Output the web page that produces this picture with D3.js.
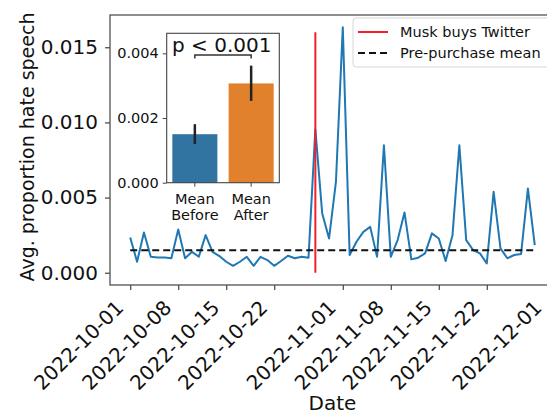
<!DOCTYPE html>
<html>
<head>
<meta charset="utf-8">
<script src="https://cdn.jsdelivr.net/npm/d3@7"></script>
<style>
  body { margin: 0; background: #fff; }
  text { font-family: "DejaVu Sans", sans-serif; fill: #111; }
</style>
</head>
<body>
<div id="chart-area"></div>
<script>
const startDate = "2022-10-01";
// daily averages, 2022-10-01 .. 2022-11-29
const hateSpeech = [
  0.00235, 0.00073, 0.00268, 0.00106, 0.00102, 0.00102, 0.00096, 0.00288, 0.00096, 0.00139,
  0.00106, 0.00250, 0.00139, 0.00111, 0.00073, 0.00046, 0.00073, 0.00106, 0.00046, 0.00106,
  0.00084, 0.00046, 0.00078, 0.00113, 0.00096, 0.00106, 0.00100, 0.00954, 0.00394, 0.00228,
  0.00604, 0.01633, 0.00118, 0.00206, 0.00272, 0.00305, 0.00106, 0.00848, 0.00106, 0.00217,
  0.00401, 0.00089, 0.00100, 0.00129, 0.00262, 0.00228, 0.00078, 0.00250, 0.00848, 0.00217,
  0.00151, 0.00129, 0.00062, 0.00538, 0.00162, 0.00096, 0.00118, 0.00124, 0.00560, 0.00184
];
const purchaseDate = "2022-10-28";
const purchaseTop = 0.016;
const preMean = 0.0015;
const xTicks = ["2022-10-01", "2022-10-08", "2022-10-15", "2022-10-22", "2022-11-01",
                "2022-11-08", "2022-11-15", "2022-11-22", "2022-12-01"];
const yTicks = [0, 0.005, 0.010, 0.015];

const insetLabels = [["Mean", "Before"], ["Mean", "After"]];
const insetMeans = [0.0015, 0.00307];
const insetLow = [0.00120, 0.00253];
const insetHigh = [0.00181, 0.00362];
const insetTicks = [0, 0.002, 0.004];
const insetColors = ["#3274a1", "#e1812c"];

const width = 547, height = 414;
const plot = { left: 110, top: 15, right: 555, bottom: 285 };

const parse = d3.utcParse("%Y-%m-%d");
const dates = d3.utcDay.range(parse(startDate), d3.utcDay.offset(parse(startDate), hateSpeech.length));
const data = dates.map((d, i) => ({ date: d, value: hateSpeech[i] }));

const svg = d3.select("#chart-area")
  .append("svg")
    .attr("width", width)
    .attr("height", height);

const t0 = dates[0].getTime(), t1 = dates[dates.length - 1].getTime();
const pad = (t1 - t0) * 0.05;
const x = d3.scaleUtc()
  .domain([new Date(t0 - pad), new Date(t1 + pad)])
  .range([plot.left, plot.right]);

const yMax = d3.max(hateSpeech);
const y = d3.scaleLinear()
  .domain([-0.05 * yMax, yMax * 1.05])
  .range([plot.bottom, plot.top]);

// axes
const xAxis = svg.append("g")
  .attr("transform", `translate(0, ${plot.bottom})`)
  .call(d3.axisBottom(x)
    .tickValues(xTicks.map(parse))
    .tickFormat(d3.utcFormat("%Y-%m-%d"))
    .tickSize(5));
xAxis.select(".domain").remove();
xAxis.selectAll(".tick line").attr("stroke", "#444").attr("stroke-width", 1.2);
xAxis.selectAll(".tick text")
  .attr("font-size", "20px")
  .attr("fill", "#222")
  .attr("text-anchor", "end")
  .attr("x", 0).attr("y", 0).attr("dy", 0)
  .attr("transform", "translate(-6, 24) rotate(-45)");

const yAxis = svg.append("g")
  .attr("transform", `translate(${plot.left}, 0)`)
  .call(d3.axisLeft(y)
    .tickValues(yTicks)
    .tickFormat(d3.format(".3f"))
    .tickSize(5)
    .tickPadding(7));
yAxis.select(".domain").remove();
yAxis.selectAll(".tick line").attr("stroke", "#444").attr("stroke-width", 1.2);
yAxis.selectAll(".tick text").attr("font-size", "20px").attr("fill", "#222");

// series
svg.append("path")
  .datum(data)
  .attr("fill", "none")
  .attr("stroke", "#1f77b4")
  .attr("stroke-width", 2)
  .attr("stroke-linejoin", "round")
  .attr("d", d3.line().x(d => x(d.date)).y(d => y(d.value)));

svg.append("line")
  .attr("x1", x(dates[0])).attr("x2", x(dates[dates.length - 1]))
  .attr("y1", y(preMean)).attr("y2", y(preMean))
  .attr("stroke", "#111")
  .attr("stroke-width", 2)
  .attr("stroke-dasharray", "7,4");

svg.append("line")
  .attr("x1", x(parse(purchaseDate))).attr("x2", x(parse(purchaseDate)))
  .attr("y1", y(0)).attr("y2", y(purchaseTop))
  .attr("stroke", "#f0212b")
  .attr("stroke-width", 2);

svg.append("rect")
  .attr("x", plot.left).attr("y", plot.top)
  .attr("width", plot.right - plot.left).attr("height", plot.bottom - plot.top)
  .attr("fill", "none")
  .attr("stroke", "#444")
  .attr("stroke-width", 1.2);

// labels
svg.append("text")
  .attr("x", (plot.left + plot.right) / 2)
  .attr("y", 410)
  .attr("font-size", "20px")
  .attr("fill", "#222")
  .attr("text-anchor", "middle")
  .text("Date");

svg.append("text")
  .attr("transform", "translate(34, 147) rotate(-90)")
  .attr("font-size", "19px")
  .attr("fill", "#222")
  .attr("text-anchor", "middle")
  .text("Avg. proportion hate speech");

// legend
const legend = svg.append("g");
legend.append("rect")
  .attr("x", 353).attr("y", 18).attr("width", 200).attr("height", 49)
  .attr("rx", 3)
  .attr("fill", "#fff").attr("fill-opacity", 0.85)
  .attr("stroke", "#d6d6d6");
legend.append("line")
  .attr("x1", 358).attr("x2", 388).attr("y1", 32).attr("y2", 32)
  .attr("stroke", "#f0212b").attr("stroke-width", 2);
legend.append("line")
  .attr("x1", 358).attr("x2", 388).attr("y1", 53).attr("y2", 53)
  .attr("stroke", "#111").attr("stroke-width", 2).attr("stroke-dasharray", "7,4");
legend.append("text")
  .attr("x", 400).attr("y", 32).attr("dy", "0.35em")
  .attr("font-size", "14.5px").attr("fill", "#222").text("Musk buys Twitter");
legend.append("text")
  .attr("x", 400).attr("y", 53).attr("dy", "0.35em")
  .attr("font-size", "14.5px").attr("fill", "#222").text("Pre-purchase mean");

// inset bar chart
const inset = { left: 166.7, top: 33.3, right: 279.3, bottom: 182.7 };
const ix = d3.scaleBand()
  .domain(insetLabels.map(d => d.join(" ")))
  .range([inset.left, inset.right])
  .paddingInner(0.2)
  .paddingOuter(0.1);
const iy = d3.scaleLinear()
  .domain([0, 0.00462])
  .range([inset.bottom, inset.top]);

const ig = svg.append("g");
ig.append("rect")
  .attr("x", inset.left).attr("y", inset.top)
  .attr("width", inset.right - inset.left).attr("height", inset.bottom - inset.top)
  .attr("fill", "#fff");

ig.selectAll("rect.bar")
  .data(insetMeans)
  .enter()
  .append("rect")
    .attr("class", "bar")
    .attr("x", (d, i) => ix(insetLabels[i].join(" ")))
    .attr("y", d => iy(d))
    .attr("width", ix.bandwidth())
    .attr("height", d => iy(0) - iy(d))
    .attr("fill", (d, i) => insetColors[i]);

ig.selectAll("line.err")
  .data(insetMeans)
  .enter()
  .append("line")
    .attr("class", "err")
    .attr("x1", (d, i) => ix(insetLabels[i].join(" ")) + ix.bandwidth() / 2)
    .attr("x2", (d, i) => ix(insetLabels[i].join(" ")) + ix.bandwidth() / 2)
    .attr("y1", (d, i) => iy(insetLow[i]))
    .attr("y2", (d, i) => iy(insetHigh[i]))
    .attr("stroke", "#222")
    .attr("stroke-width", 2.5);

ig.append("rect")
  .attr("x", inset.left).attr("y", inset.top)
  .attr("width", inset.right - inset.left).attr("height", inset.bottom - inset.top)
  .attr("fill", "none")
  .attr("stroke", "#444")
  .attr("stroke-width", 1.1);

const iyAxis = ig.append("g")
  .attr("transform", `translate(${inset.left}, 0)`)
  .call(d3.axisLeft(iy).tickValues(insetTicks).tickFormat(d3.format(".3f")).tickSize(4).tickPadding(4));
iyAxis.select(".domain").remove();
iyAxis.selectAll(".tick line").attr("stroke", "#444");
iyAxis.selectAll(".tick text").attr("font-size", "14.5px").attr("fill", "#222");

const ixAxis = ig.append("g")
  .attr("transform", `translate(0, ${inset.bottom})`)
  .call(d3.axisBottom(ix).tickSize(4).tickFormat(""));
ixAxis.select(".domain").remove();
ixAxis.selectAll(".tick line").attr("stroke", "#444");
ixAxis.selectAll(".tick").each(function(d, i) {
  const t = d3.select(this).append("text")
    .attr("text-anchor", "middle")
    .attr("font-size", "14.5px")
    .attr("fill", "#222");
  insetLabels[i].forEach((s, k) => {
    t.append("tspan").attr("x", 0).attr("y", 21 + k * 16).text(s);
  });
});

const c0 = ix(insetLabels[0].join(" ")) + ix.bandwidth() / 2;
const c1 = ix(insetLabels[1].join(" ")) + ix.bandwidth() / 2;
ig.append("path")
  .attr("d", `M${c0},58.5V55H${c1}V58.5`)
  .attr("fill", "none")
  .attr("stroke", "#333")
  .attr("stroke-width", 1.5);
ig.append("text")
  .attr("x", 172).attr("y", 52)
  .attr("font-size", "20px")
  .attr("fill", "#222")
  .text("p < 0.001");
</script>
</body>
</html>
